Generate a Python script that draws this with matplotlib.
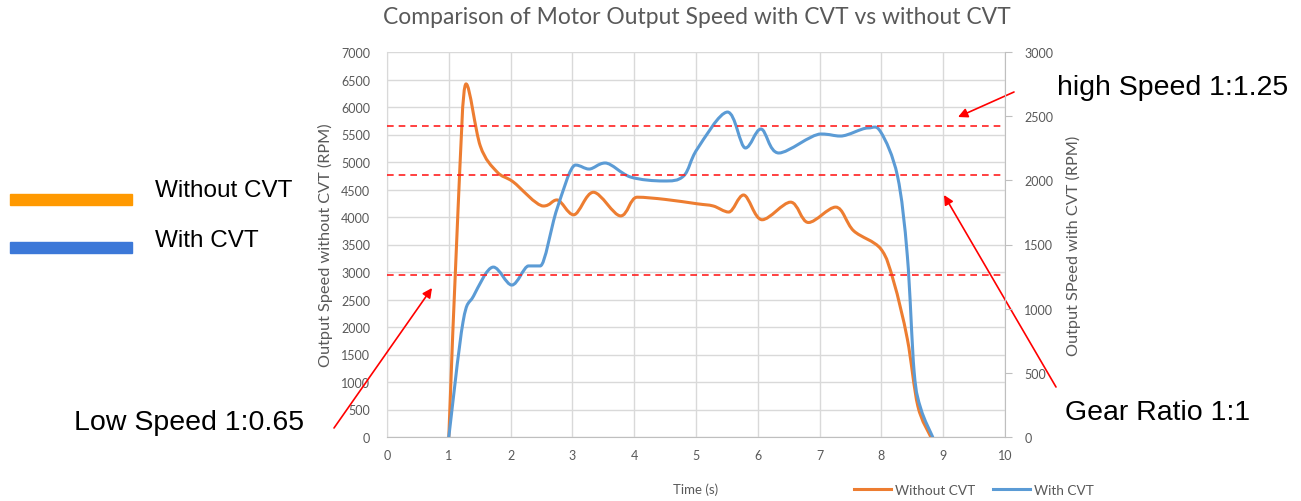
import numpy as np
import matplotlib.pyplot as plt
from matplotlib.path import Path
from matplotlib.patches import PathPatch
from matplotlib.lines import Line2D

# Time (s) and speed samples for the run without CVT (left axis, RPM)
t_tanpa = [1.0, 1.15, 1.28, 1.51, 1.78, 2.04, 2.53, 2.75, 3.02, 3.34, 3.78, 4.05, 4.5,
           5.02, 5.28, 5.53, 5.77, 6.07, 6.53, 6.82, 7.26, 7.55, 7.99, 8.2, 8.42,
           8.59, 8.8]
v_tanpa = [0, 4150, 6420, 5290, 4820, 4640, 4200, 4310, 4040, 4450, 4020, 4360, 4320,
           4240, 4200, 4090, 4400, 3950, 4270, 3900, 4180, 3750, 3420, 2820, 1780,
           560, 0]

# Time (s) and speed samples for the run with CVT (right axis, RPM)
t_cvt = [1.0, 1.23, 1.4, 1.72, 2.02, 2.29, 2.48, 2.75, 3.05, 3.27, 3.53, 3.94,
         4.47, 4.8, 5.02, 5.51, 5.8, 6.05, 6.34, 7.02, 7.34, 7.78, 7.99, 8.26,
         8.42, 8.53, 8.64, 8.83]
v_cvt = [0, 896, 1098, 1324, 1184, 1333, 1333, 1776, 2119, 2088, 2135, 2026,
         1995, 2034, 2244, 2532, 2252, 2400, 2213, 2361, 2345, 2408, 2376, 2034,
         1410, 506, 218, 0]

# Gear ratio levels (right axis, RPM)
level_rasio = [2420, 2045, 1265]

W, H = 1301, 502
ABU = '#595959'
ORANYE = '#ED7D31'
BIRU = '#5B9BD5'


def kurva_halus(x, y):
    # Bezier path through the points; flat tangent on peaks and valleys
    p = np.column_stack([x, y]).astype(float)
    n = len(p)
    tangen = []
    for i in range(n):
        a = p[i - 1] if i > 0 else p[i]
        b = p[i + 1] if i + 1 < n else p[i]
        d = (b - a) / 6.0
        if 0 < i < n - 1 and (p[i, 1] - a[1]) * (b[1] - p[i, 1]) <= 0:
            d[1] = 0.0
        tangen.append(d)
    verts = [p[0]]
    codes = [Path.MOVETO]
    for i in range(n - 1):
        verts += [p[i] + tangen[i], p[i + 1] - tangen[i + 1], p[i + 1]]
        codes += [Path.CURVE4] * 3
    return Path(verts, codes)


def px(x, y):
    return x / W, 1 - y / H


plt.rcParams['font.family'] = ['Lato', 'DejaVu Sans']

fig = plt.figure(figsize=(W / 100, H / 100), dpi=100)
ax = fig.add_axes([387 / W, 1 - 438 / H, (1005 - 387) / W, (438 - 53) / H])
ax2 = ax.twinx()

ax.set_xlim(0, 10)
ax.set_ylim(0, 7000)
ax2.set_ylim(0, 3000)
ax.set_xticks(range(0, 11))
ax.set_yticks(range(0, 7001, 500))
ax2.set_yticks(range(0, 3001, 500))

ax.grid(True, color='#D9D9D9', lw=1)
ax.set_axisbelow(True)
for s in ['top', 'right']:
    ax.spines[s].set_visible(False)
for s in ['top', 'left']:
    ax2.spines[s].set_visible(False)
ax2.spines['bottom'].set_visible(False)
ax.spines['left'].set_color('#D9D9D9')
ax.spines['bottom'].set_color('#BFBFBF')
ax2.spines['right'].set_color('#BFBFBF')

ax.tick_params(axis='both', length=0, labelsize=9, labelcolor=ABU, pad=12)
ax.tick_params(axis='x', pad=9)
ax2.tick_params(axis='y', length=5, color='#BFBFBF', labelsize=9, labelcolor=ABU, pad=9)

ax.add_patch(PathPatch(kurva_halus(t_tanpa, v_tanpa), fill=False, edgecolor=ORANYE,
                       lw=2.2, capstyle='round', joinstyle='round'))
ax2.add_patch(PathPatch(kurva_halus(t_cvt, v_cvt), fill=False, edgecolor=BIRU,
                        lw=2.2, capstyle='round', joinstyle='round'))

for lv in level_rasio:
    ax2.axhline(lv, color='#FF2020', lw=1.2, ls=(0, (4, 3)), zorder=5)

ax.set_ylabel('Output Speed without CVT (RPM)', fontsize=11.7, color=ABU, labelpad=6)
ax2.set_ylabel('Output SPeed with CVT (RPM)', fontsize=11.7, color=ABU, labelpad=9)
ax.set_xlabel('Time (s)', fontsize=9.5, color=ABU, labelpad=15)

fig.text(*px(697, 17), 'Comparison of Motor Output Speed with CVT vs without CVT',
         fontsize=16.5, color=ABU, ha='center', va='center')

# legend under the plot
garis = [Line2D([], [], color=ORANYE, lw=2.2), Line2D([], [], color=BIRU, lw=2.2)]
fig.legend(garis, ['Without CVT', 'With CVT'], loc='center', bbox_to_anchor=px(974, 491),
           ncol=2, frameon=False, fontsize=9.8, labelcolor=ABU, handlelength=2.7,
           handletextpad=0.3, columnspacing=1.3)

# legend on the left side
fig.patches.append(plt.Rectangle(px(10, 206), 122 / W, 11 / H, color='#FF9900',
                                 transform=fig.transFigure))
fig.patches.append(plt.Rectangle(px(10, 254), 122 / W, 11 / H, color='#3C78D8',
                                 transform=fig.transFigure))
besar = dict(family=['Liberation Sans', 'DejaVu Sans'], color='black', va='center')
fig.text(*px(155, 191), 'Without CVT', fontsize=17.5, **besar)
fig.text(*px(155, 241), 'With CVT', fontsize=17.5, **besar)

fig.text(*px(1057, 88), 'high Speed 1:1.25', fontsize=20.5, **besar)
fig.text(*px(1065, 413), 'Gear Ratio 1:1', fontsize=20.5, **besar)
fig.text(*px(74, 423), 'Low Speed 1:0.65', fontsize=20.5, **besar)

panah = dict(arrowstyle='-|>', color='red', lw=1.2, mutation_scale=14, shrinkA=0, shrinkB=0)
for ujung, pangkal in [((958, 118), (1014, 93)),
                       ((944, 196), (1056, 388)),
                       ((432, 289), (334, 429))]:
    ax.annotate('', xy=px(*ujung), xycoords='figure fraction',
                xytext=px(*pangkal), textcoords='figure fraction', arrowprops=panah)

fig.savefig('out.png', dpi=100)
